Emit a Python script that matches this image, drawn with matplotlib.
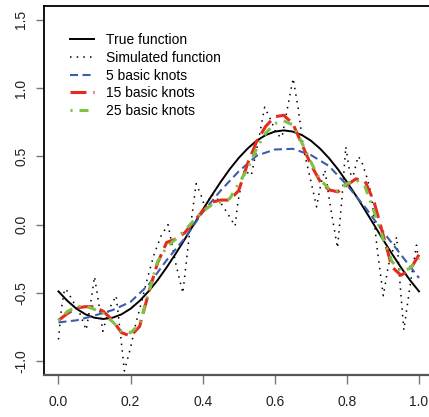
import numpy as np
import matplotlib
matplotlib.use("Agg")
import matplotlib.pyplot as plt

plt.rcParams['font.family'] = ['Liberation Sans', 'DejaVu Sans']
plt.rcParams['lines.scale_dashes'] = False

# values
x_true = [0.0, 0.025, 0.05, 0.075, 0.1, 0.125, 0.15, 0.175, 0.2, 0.225, 0.25, 0.275, 0.3, 0.325,
          0.35, 0.375, 0.4, 0.425, 0.45, 0.475, 0.5, 0.525, 0.55, 0.575, 0.6, 0.625, 0.65, 0.675,
          0.7, 0.725, 0.75, 0.775, 0.8, 0.825, 0.85, 0.875, 0.9, 0.925, 0.95, 0.975, 1.0]
y_true = [-0.488, -0.558, -0.615, -0.656, -0.681, -0.690, -0.681, -0.656, -0.615, -0.558, -0.488,
          -0.406, -0.313, -0.213, -0.108, 0.0, 0.108, 0.213, 0.313, 0.406, 0.488, 0.558, 0.615,
          0.656, 0.681, 0.690, 0.681, 0.656, 0.615, 0.558, 0.488, 0.406, 0.313, 0.213, 0.108, 0.0,
          -0.108, -0.213, -0.313, -0.406, -0.488]

x_sim = [0.0, 0.008, 0.017, 0.026, 0.04, 0.058, 0.077, 0.088, 0.1, 0.112, 0.123, 0.14, 0.16, 0.172,
         0.183, 0.2, 0.215, 0.232, 0.248, 0.265, 0.285, 0.304, 0.325, 0.345, 0.362, 0.382, 0.395,
         0.406, 0.425, 0.445, 0.465, 0.49, 0.498, 0.515, 0.535, 0.555, 0.572, 0.59, 0.605, 0.62,
         0.635, 0.651, 0.665, 0.68, 0.7, 0.716, 0.728, 0.739, 0.755, 0.774, 0.785, 0.797, 0.808,
         0.817, 0.831, 0.84, 0.855, 0.868, 0.885, 0.901, 0.915, 0.938, 0.948, 0.958, 0.975, 0.993, 1.0]
y_sim = [-0.84, -0.62, -0.47, -0.49, -0.56, -0.64, -0.77, -0.60, -0.38, -0.58, -0.78, -0.62, -0.52,
         -0.80, -1.07, -0.90, -0.72, -0.55, -0.38, -0.22, -0.08, 0.0, -0.28, -0.50, -0.10, 0.30, 0.22,
         0.13, 0.22, 0.18, 0.10, -0.01, 0.17, 0.40, 0.36, 0.62, 0.86, 0.76, 0.66, 0.64, 0.85, 1.07,
         0.85, 0.55, 0.32, 0.13, 0.30, 0.40, 0.12, -0.17, 0.15, 0.57, 0.38, 0.35, 0.50, 0.47, 0.35,
         0.22, -0.20, -0.52, -0.30, -0.09, -0.45, -0.77, -0.45, -0.15, -0.28]

x_k5 = [0.0, 0.05, 0.1, 0.15, 0.2, 0.25, 0.3, 0.35, 0.4, 0.45, 0.5, 0.55, 0.6, 0.65, 0.7, 0.75,
        0.8, 0.85, 0.9, 0.95, 1.0]
y_k5 = [-0.715, -0.70, -0.665, -0.625, -0.565, -0.44, -0.26, -0.10, 0.09, 0.25, 0.39, 0.505, 0.55,
        0.555, 0.51, 0.43, 0.29, 0.13, -0.05, -0.22, -0.39]

x_k = x_true
y_k15 = [-0.70, -0.65, -0.61, -0.60, -0.60, -0.635, -0.70, -0.79, -0.815, -0.745, -0.50, -0.28,
         -0.13, -0.105, -0.06, 0.02, 0.10, 0.165, 0.18, 0.18, 0.25, 0.45, 0.61, 0.72, 0.79, 0.80,
         0.74, 0.59, 0.44, 0.32, 0.255, 0.24, 0.29, 0.335, 0.32, 0.17, -0.07, -0.31, -0.37, -0.33, -0.22]
y_k25 = [-0.70, -0.635, -0.60, -0.595, -0.62, -0.65, -0.71, -0.78, -0.79, -0.73, -0.50, -0.27,
         -0.165, -0.105, -0.045, 0.03, 0.095, 0.145, 0.165, 0.19, 0.30, 0.41, 0.56, 0.67, 0.74, 0.76,
         0.73, 0.60, 0.46, 0.33, 0.265, 0.245, 0.30, 0.33, 0.28, 0.10, -0.10, -0.27, -0.34, -0.32, -0.245]

x_ticks = [0.0, 0.2, 0.4, 0.6, 0.8, 1.0]
y_ticks = [-1.0, -0.5, 0.0, 0.5, 1.0, 1.5]

fig = plt.figure(figsize=(4.29, 4.17), dpi=100)
ax = fig.add_axes([0.1026, 0.1007, 0.9077, 0.8849])

ax.plot(x_true, y_true, color='black', lw=1.4, label='True function')
ax.plot(x_sim, y_sim, color='black', lw=1.1, linestyle=(0, (1.1, 3.7)), label='Simulated function')
ax.plot(x_k5, y_k5, color='#3C5DAA', lw=1.5, linestyle=(0, (5.8, 3.2)), label='5 basic knots')
ax.plot(x_k, y_k15, color='#E8291F', lw=2.2, linestyle=(0, (11.5, 5.0)), label='15 basic knots')
ax.plot(x_k, y_k25, color='#7DC243', lw=2.2, linestyle=(0, (1.5, 5.0, 6.5, 5.0)), label='25 basic knots')

ax.set_xlim(-0.04, 1.04)
ax.set_ylim(-1.1, 1.6)
ax.set_xticks(x_ticks)
ax.set_xticklabels(['%.1f' % v for v in x_ticks])
ax.set_yticks(y_ticks)
ax.set_yticklabels(['%.1f' % v for v in y_ticks], rotation=90, va='center')

ax.tick_params(axis='x', length=6.5, width=1.0, color='#777777', pad=8, labelsize=10, labelcolor='#222222')
ax.tick_params(axis='y', length=5.5, width=1.0, color='#777777', pad=6, labelsize=10, labelcolor='#222222')

for s in ['left', 'top']:
    ax.spines[s].set_linewidth(1.3)
    ax.spines[s].set_color('black')
ax.spines['bottom'].set_linewidth(1.6)
ax.spines['bottom'].set_color('#555555')
ax.spines['right'].set_visible(False)

ax.legend(loc='upper left', bbox_to_anchor=(0.0668, 0.926), frameon=False, fontsize=10,
          handlelength=1.75, handletextpad=0.86, labelspacing=0.26, borderpad=0, borderaxespad=0)

fig.savefig('out.png', dpi=100)
